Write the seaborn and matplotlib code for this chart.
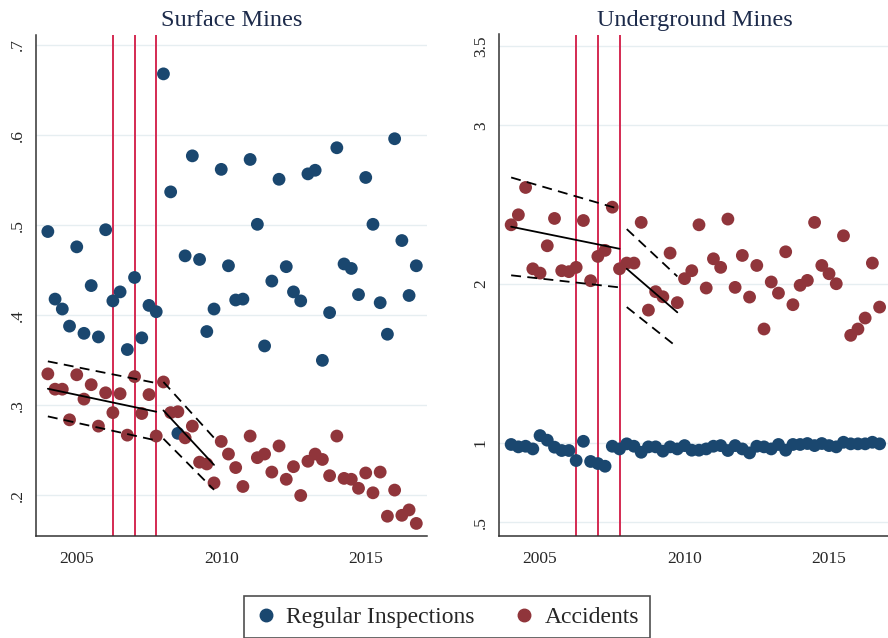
import numpy as np
import pandas as pd
import matplotlib
matplotlib.use("Agg")
import matplotlib.pyplot as plt
import seaborn as sns
from matplotlib.lines import Line2D

# ---------------- data ----------------
quarters = np.arange(2004.0, 2017.0, 0.25)  # 2004q1 .. 2016q4

surface_inspections = [0.493, 0.418, 0.407, 0.388, 0.476, 0.380, 0.433, 0.376, 0.495, 0.416,
                       0.426, 0.362, 0.442, 0.375, 0.411, 0.404, 0.668, 0.537, 0.269, 0.466,
                       0.577, 0.462, 0.382, 0.407, 0.562, 0.455, 0.417, 0.418, 0.573, 0.501,
                       0.366, 0.438, 0.551, 0.454, 0.426, 0.416, 0.557, 0.561, 0.350, 0.403,
                       0.586, 0.457, 0.452, 0.423, 0.553, 0.501, 0.414, 0.379, 0.596, 0.483,
                       0.422, 0.455]
surface_accidents = [0.335, 0.318, 0.318, 0.284, 0.334, 0.307, 0.323, 0.277, 0.314, 0.292,
                     0.313, 0.267, 0.332, 0.291, 0.312, 0.266, 0.326, 0.292, 0.293, 0.264,
                     0.277, 0.237, 0.235, 0.214, 0.260, 0.246, 0.231, 0.210, 0.266, 0.242,
                     0.246, 0.226, 0.255, 0.218, 0.232, 0.200, 0.238, 0.246, 0.240, 0.222,
                     0.266, 0.219, 0.218, 0.208, 0.225, 0.203, 0.226, 0.177, 0.206, 0.178,
                     0.184, 0.169]
under_inspections = [0.990, 0.975, 0.979, 0.962, 1.046, 1.017, 0.973, 0.952, 0.952, 0.889,
                     1.010, 0.883, 0.870, 0.853, 0.979, 0.962, 0.994, 0.979, 0.941, 0.975,
                     0.975, 0.948, 0.975, 0.962, 0.983, 0.954, 0.954, 0.962, 0.979, 0.983,
                     0.952, 0.983, 0.962, 0.937, 0.979, 0.975, 0.962, 0.990, 0.954, 0.990,
                     0.990, 0.996, 0.983, 0.996, 0.983, 0.975, 1.004, 0.994, 0.994, 0.994,
                     1.004, 0.994]
under_accidents = [2.373, 2.436, 2.608, 2.096, 2.069, 2.241, 2.413, 2.084, 2.078, 2.105,
                   2.400, 2.021, 2.174, 2.212, 2.484, 2.096, 2.132, 2.132, 2.388, 1.836,
                   1.952, 1.920, 2.195, 1.883, 2.034, 2.084, 2.373, 1.975, 2.159, 2.105,
                   2.409, 1.979, 2.180, 1.918, 2.117, 1.717, 2.013, 1.943, 2.203, 1.870,
                   1.992, 2.023, 2.388, 2.117, 2.065, 2.002, 2.304, 1.677, 1.717, 1.786,
                   2.132, 1.855]

# fitted trend segments (pre-period and post-period)
fit_x = [[2004.0, 2007.75], [2008.0, 2009.75]]
surface_fit_mid = [[0.3185, 0.293], [0.2944, 0.234]]
surface_fit_hi = [[0.3489, 0.3248], [0.326, 0.264]]
surface_fit_lo = [[0.2878, 0.2611], [0.263, 0.2063]]
under_fit_mid = [[2.361, 2.222], [2.096, 1.822]]
under_fit_hi = [[2.671, 2.472], [2.346, 2.048]]
under_fit_lo = [[2.055, 1.979], [1.855, 1.602]]

event_lines = [2006.25, 2007.0, 2007.75]

panel_titles = ["Surface Mines", "Underground Mines"]
series_labels = ["Regular Inspections", "Accidents"]
x_ticks = [2005, 2010, 2015]
surface_yticks = [0.2, 0.3, 0.4, 0.5, 0.6, 0.7]
surface_ylabels = [".2", ".3", ".4", ".5", ".6", ".7"]
under_yticks = [0.5, 1, 2, 3, 3.5]
under_ylabels = [".5", "1", "2", "3", "3.5"]

# ---------------- style ----------------
sns.set_style("white")
plt.rcParams["font.family"] = ["Liberation Serif", "DejaVu Serif"]

BLUE = "#1a476f"
RED = "#90353b"
VLINE = "#d42a52"
GRID = "#e6eef1"
TITLE = "#1c2a4a"

fig = plt.figure(figsize=(8.88, 6.38), dpi=100)
ax1 = fig.add_axes([36 / 888, 1 - 535.5 / 638, 391 / 888, (535.5 - 34.5) / 638])
ax2 = fig.add_axes([499.3 / 888, 1 - 535.5 / 638, 391 / 888, (535.5 - 34.5) / 638])


def draw_panel(ax, insp, acc, mid, hi, lo, yticks, ylabels, ylim, title):
    df = pd.DataFrame({"t": quarters, "insp": insp, "acc": acc})
    for yt in yticks:
        ax.axhline(yt, color=GRID, lw=1.0, zorder=0)
    for xv in event_lines:
        ax.axvline(xv, color=VLINE, lw=1.4, zorder=1)
    sns.scatterplot(data=df, x="t", y="insp", ax=ax, color=BLUE, s=85,
                    edgecolor="none", zorder=3, legend=False)
    sns.scatterplot(data=df, x="t", y="acc", ax=ax, color=RED, s=85,
                    edgecolor="none", zorder=3, legend=False)
    for k in range(len(fit_x)):
        seg = pd.DataFrame({"t": fit_x[k], "mid": mid[k], "hi": hi[k], "lo": lo[k]})
        sns.lineplot(data=seg, x="t", y="mid", ax=ax, color="black", lw=1.3, zorder=4)
        for col in ["hi", "lo"]:
            sns.lineplot(data=seg, x="t", y=col, ax=ax, color="black", lw=1.3,
                         linestyle=(0, (5.5, 3.5)), zorder=4)
    ax.set_xlim(2003.59, 2017.12)
    ax.set_ylim(*ylim)
    ax.set_xticks(x_ticks)
    ax.set_xticklabels([str(v) for v in x_ticks], fontsize=12.5)
    ax.set_yticks(yticks)
    ax.set_yticklabels(ylabels, fontsize=12.5, rotation=90, va="center")
    ax.tick_params(axis="both", direction="out", length=6, width=1.0, color="#333333")
    ax.tick_params(axis="x", pad=5)
    ax.tick_params(axis="y", pad=1.5)
    ax.set_xlabel("")
    ax.set_ylabel("")
    for sp in ["top", "right"]:
        ax.spines[sp].set_visible(False)
    for sp in ["left", "bottom"]:
        ax.spines[sp].set_color("#333333")
        ax.spines[sp].set_linewidth(1.1)
    ax.set_title(title, fontsize=17.5, color=TITLE, pad=6)


draw_panel(ax1, surface_inspections, surface_accidents, surface_fit_mid, surface_fit_hi,
           surface_fit_lo, surface_yticks, surface_ylabels, (0.1556, 0.7117), panel_titles[0])
draw_panel(ax2, under_inspections, under_accidents, under_fit_mid, under_fit_hi,
           under_fit_lo, under_yticks, under_ylabels, (0.417, 3.571), panel_titles[1])

handles = [Line2D([], [], marker="o", ls="none", color=BLUE, markersize=9),
           Line2D([], [], marker="o", ls="none", color=RED, markersize=9)]
leg = fig.legend(handles, series_labels, loc="upper center", bbox_to_anchor=(0.503, 1 - 595.7 / 638),
                 ncol=2, fontsize=17, frameon=True, fancybox=False, edgecolor="#222222",
                 handletextpad=0.35, columnspacing=1.6, borderpad=0.45, borderaxespad=0.0,
                 handlelength=1.0)
leg.get_frame().set_linewidth(1.2)

fig.savefig("out.png", dpi=100, facecolor="white")
